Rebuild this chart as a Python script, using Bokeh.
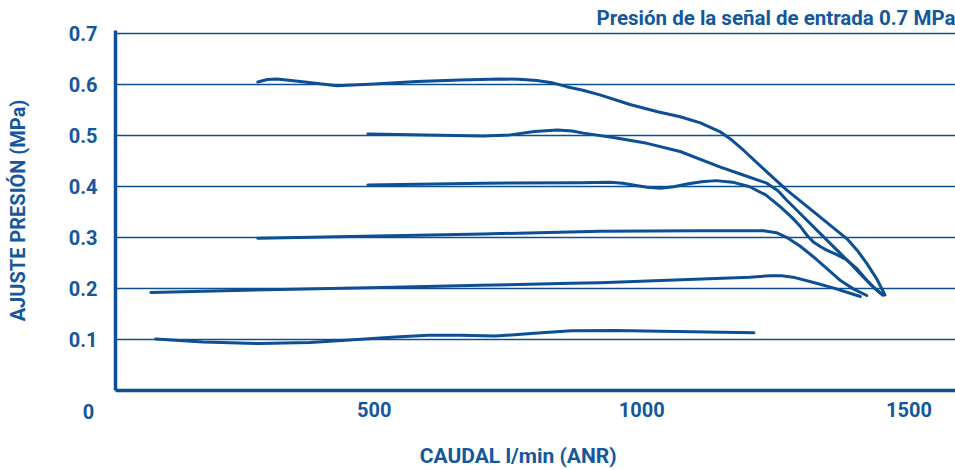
from bokeh.plotting import figure
from bokeh.models import Label, FixedTicker, Range1d
from bokeh.embed import file_html
from bokeh.resources import INLINE

# Curves: set pressure 0.1 ... 0.6 MPa (flow l/min, pressure MPa)
flow_01 = [91, 180, 284, 380, 468, 540, 601, 660, 726, 800, 868, 950, 1035, 1210]
pres_01 = [0.101, 0.095, 0.092, 0.094, 0.100, 0.105, 0.108, 0.108, 0.1065, 0.112, 0.117, 0.1175, 0.116, 0.113]

flow_02 = [82, 324, 535, 698, 868, 922, 1202, 1240, 1262, 1283, 1320, 1358, 1409]
pres_02 = [0.192, 0.198, 0.202, 0.206, 0.210, 0.211, 0.222, 0.2245, 0.2245, 0.222, 0.212, 0.201, 0.184]

flow_03 = [282, 704, 922, 1109, 1228, 1252, 1271, 1296, 1321, 1346, 1371, 1396, 1421]
pres_03 = [0.298, 0.3065, 0.312, 0.313, 0.313, 0.309, 0.300, 0.283, 0.262, 0.239, 0.216, 0.199, 0.186]

flow_04 = [488, 704, 885, 941, 965, 984, 1010, 1035, 1060, 1085, 1112, 1139, 1170, 1202, 1232, 1259, 1280, 1297, 1310, 1321, 1334, 1346, 1365, 1384, 1403, 1421, 1437, 1451]
pres_04 = [0.4025, 0.406, 0.407, 0.408, 0.406, 0.4025, 0.398, 0.396, 0.399, 0.4045, 0.409, 0.411, 0.408, 0.399, 0.383, 0.360, 0.340, 0.321, 0.303, 0.291, 0.282, 0.275, 0.266, 0.2555, 0.238, 0.216, 0.199, 0.187]

flow_05 = [488, 704, 754, 800, 842, 870, 891, 950, 1010, 1072, 1146, 1190, 1234, 1255, 1271, 1296, 1321, 1346, 1371, 1393, 1414, 1433, 1451]
pres_05 = [0.5025, 0.4986, 0.5006, 0.507, 0.510, 0.508, 0.504, 0.495, 0.484, 0.468, 0.438, 0.422, 0.406, 0.391, 0.373, 0.347, 0.321, 0.295, 0.269, 0.246, 0.223, 0.203, 0.187]

flow_06 = [282, 300, 318, 370, 430, 500, 580, 660, 736, 770, 804, 835, 860, 890, 922, 978, 1030, 1072, 1110, 1146, 1168, 1190, 1230, 1271, 1330, 1384, 1405, 1421, 1440, 1455]
pres_06 = [0.604, 0.609, 0.610, 0.604, 0.597, 0.600, 0.605, 0.608, 0.610, 0.6095, 0.607, 0.602, 0.595, 0.588, 0.579, 0.560, 0.546, 0.536, 0.524, 0.507, 0.491, 0.471, 0.432, 0.393, 0.343, 0.297, 0.272, 0.249, 0.218, 0.187]

curves = [(flow_01, pres_01), (flow_02, pres_02), (flow_03, pres_03),
          (flow_04, pres_04), (flow_05, pres_05), (flow_06, pres_06)]

x_ticks = [500, 1000, 1500]
y_ticks = [0.1, 0.2, 0.3, 0.4, 0.5, 0.6, 0.7]

title_text = "Presión de la señal de entrada 0.7 MPa"
x_title = "CAUDAL l/min (ANR)"
y_title = "AJUSTE PRESIÓN (MPa)"
zero_text = "0"

BLUE = "#0c4f93"
TXT = "#14579b"
FONT = "Roboto"
FS = "20px"

p = figure(width=955, height=470, x_range=Range1d(15.9, 1587), y_range=Range1d(0, 0.705),
           output_backend="svg", toolbar_location=None,
           min_border_left=115, min_border_right=0, min_border_top=30, min_border_bottom=80)
p.outline_line_color = None
p.background_fill_color = "white"

for fx, py in curves:
    p.line(fx, py, line_color=BLUE, line_width=3, line_join="round", line_cap="round")

p.xgrid.visible = False
p.ygrid.ticker = FixedTicker(ticks=y_ticks)
p.ygrid.grid_line_color = BLUE
p.ygrid.grid_line_width = 1.5

for ax in (p.xaxis[0], p.yaxis[0]):
    ax.axis_line_color = BLUE
    ax.axis_line_width = 3.5
    ax.major_tick_in = 0
    ax.major_tick_out = 0
    ax.minor_tick_in = 0
    ax.minor_tick_out = 0
    ax.major_label_text_font = FONT
    ax.major_label_text_font_style = "bold"
    ax.major_label_text_font_size = FS
    ax.major_label_text_color = TXT

p.xaxis[0].ticker = FixedTicker(ticks=x_ticks)
p.yaxis[0].ticker = FixedTicker(ticks=y_ticks)
p.xaxis[0].major_label_standoff = 11
p.yaxis[0].major_label_standoff = 18

p.yaxis[0].axis_label = y_title
p.yaxis[0].axis_label_standoff = 36
p.yaxis[0].axis_label_text_font = FONT
p.yaxis[0].axis_label_text_font_style = "bold"
p.yaxis[0].axis_label_text_font_size = "20px"
p.yaxis[0].axis_label_text_color = TXT

p.title.text = title_text
p.title.align = "right"
p.title.text_font = FONT
p.title.text_font_style = "bold"
p.title.text_font_size = "20.5px"
p.title.text_color = TXT
p.title.standoff = 2

common = dict(text_font=FONT, text_font_style="bold", text_color=TXT)

p.add_layout(Label(x=769, y=-0.129, text=x_title, text_align="center", text_baseline="middle",
                   text_font_size="21px", **common), "below")
p.add_layout(Label(x=-34.6, y=-0.0406, text=zero_text, text_align="center", text_baseline="middle",
                   text_font_size=FS, **common), "below")

open("out.html", "w").write(file_html(p, INLINE))
